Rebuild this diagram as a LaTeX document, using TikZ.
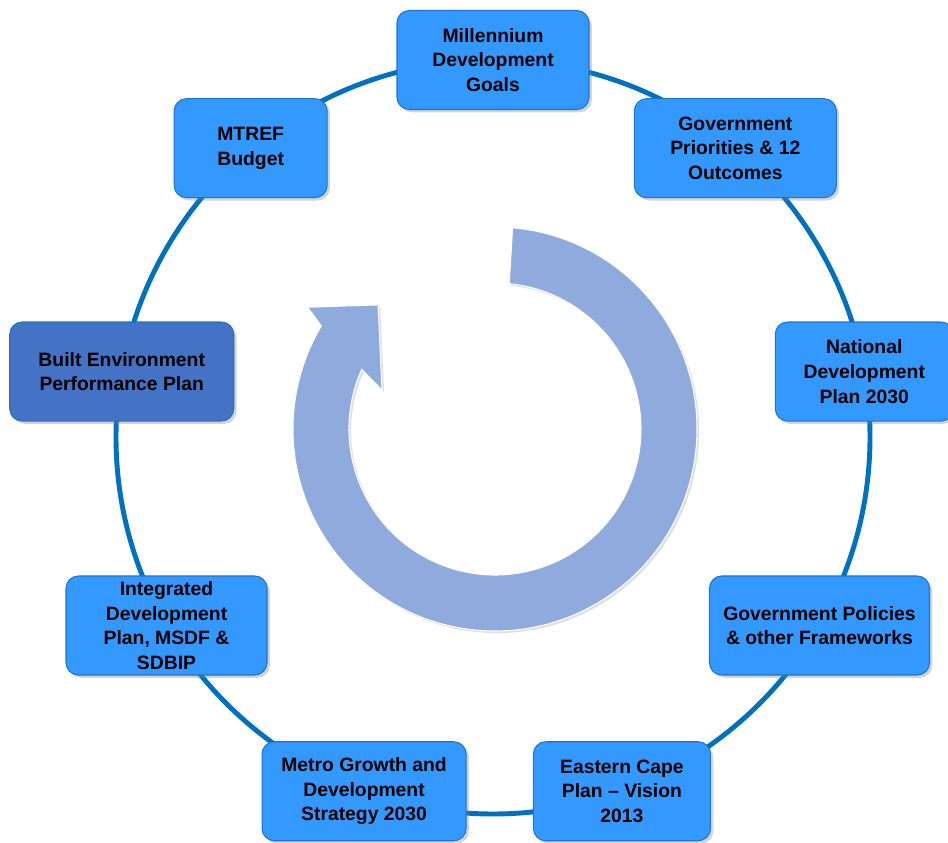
\documentclass[tikz,border=0pt]{standalone}
\usepackage{fontspec}
\setmainfont{Liberation Sans}
\usetikzlibrary{shadows,calc}

\definecolor{ringblue}{RGB}{0,112,192}
\definecolor{boxblue}{RGB}{51,153,255}
\definecolor{boxedge}{RGB}{30,116,204}
\definecolor{bepblue}{RGB}{68,114,196}
\definecolor{arrowblue}{RGB}{143,170,220}

\tikzset{
  stagebox/.style={draw=boxedge, line width=0.6pt, fill=boxblue, rounded corners=7pt,
    minimum height=1.98cm, inner ysep=1pt, align=center,
    font=\fontsize{11}{14}\selectfont\bfseries,
    drop shadow={shadow xshift=1.6pt, shadow yshift=-1.6pt, opacity=0.35}},
  focusbox/.style={stagebox, fill=bepblue},
}

\begin{document}
\begin{tikzpicture}
  \useasboundingbox (0,0) rectangle (18.96,16.86);
  \coordinate (hub) at (9.86,8.12);
  \coordinate (turn) at (9.90,8.28);

  % the cycle ring behind the boxes
  \draw[ringblue, line width=2.8pt] (hub) circle (7.54);

  % big circular arrow in the middle
  \path[fill=arrowblue, draw=white, line width=0.6pt,
        drop shadow={shadow xshift=1.2pt, shadow yshift=-1.2pt, opacity=0.25}]
    ($(turn)+(85:4.04)$) arc[start angle=85, end angle=-210.7, radius=4.04]
    -- ($(turn)+(147:4.47)$) -- ($(turn)+(133.3:3.41)$)
    -- ($(turn)+(161:2.39)$) -- ($(turn)+(-204.1:2.92)$)
    arc[start angle=-204.1, end angle=84.4, radius=2.92] -- cycle;

  % the stages round the ring
  \foreach \ang/\nm/\w/\txt in {
      90/mdg/3.84/{Millennium\\Development\\Goals},
      50/gpo/4.04/{Government\\Priorities \& 12\\Outcomes},
      10/ndp/3.56/{National\\Development\\Plan 2030},
      -30/gpf/4.40/{Government Policies\\\& other Frameworks},
      -70/ecp/3.54/{Eastern Cape\\Plan -- Vision\\2013},
      -110/mgds/4.08/{Metro Growth and\\Development\\Strategy 2030},
      -150/idp/4.02/{Integrated\\Development\\Plan, MSDF \&\\SDBIP},
      130/mtref/3.06/{MTREF\\Budget}} {
    \node[stagebox, minimum width=\w cm] (\nm) at ($(hub)+(\ang:7.54)$) {\txt};
  }
  \node[focusbox, minimum width=4.48cm] (bepp) at ($(hub)+(170:7.54)$)
    {Built Environment\\Performance Plan};
\end{tikzpicture}
\end{document}
